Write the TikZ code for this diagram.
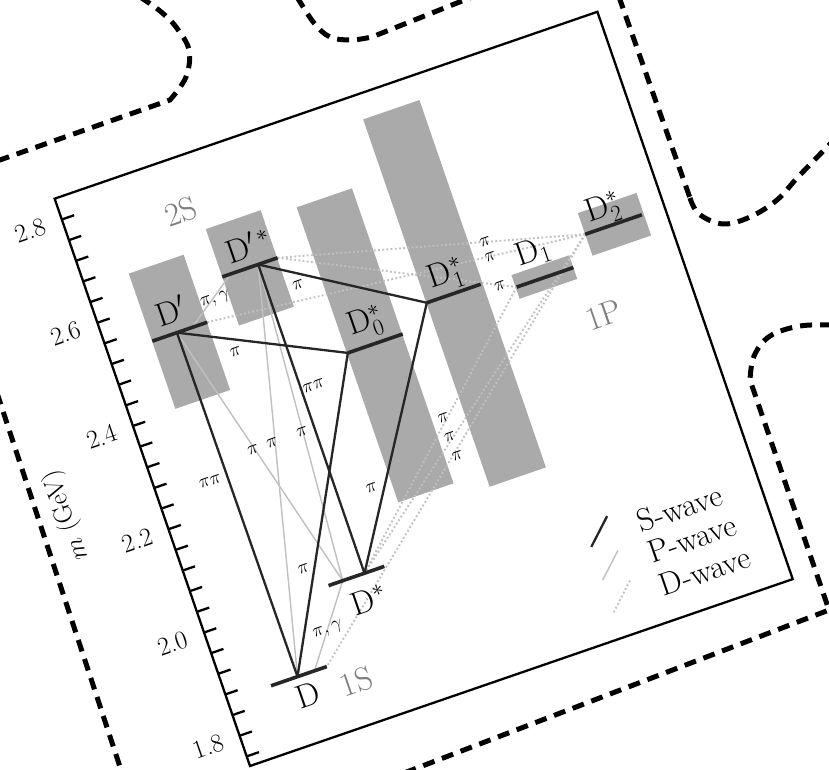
\RequirePackage{fix-cm}
\documentclass[tikz,border=0pt]{standalone}
\usepackage{fontspec}
\definecolor{bandgray}{RGB}{170,170,170}
\definecolor{txtgray}{RGB}{125,125,125}
\definecolor{pgray}{RGB}{192,192,192}
\begin{document}
\begin{tikzpicture}[x=1pt,y=1pt]
\tikzset{
 band/.style={fill=bandgray, draw=none},
 lvl/.style={line width=3.6pt, black!85, line cap=butt},
 swave/.style={line width=2.3pt, black!85},
 pwave/.style={line width=1.4pt, pgray},
 dwave/.style={line width=1.9pt, pgray, dash pattern=on 1.8pt off 2.4pt},
 lbl/.style={font=\fontsize{33}{36}\selectfont, inner sep=0pt},
 lblw/.style={lbl, anchor=base west},
 glbl/.style={lbl, text=txtgray},
 pil/.style={font=\fontsize{19}{21}\selectfont, inner sep=0pt},
 tkl/.style={font=\fontsize{26}{28}\selectfont, inner sep=0pt},
 leg/.style={font=\fontsize{32}{34}\selectfont, inner sep=0pt, anchor=west},
 outline/.style={line width=5pt, black, dash pattern=on 12pt off 8pt},
}
\useasboundingbox (0,0) rectangle (829,770);
\fill[white] (0,0) rectangle (829,770);
% ---------- dashed puzzle outline (image coordinates) ----------
\begin{scope}[shift={(0,770)}, yscale=-1]
\draw[outline] plot[smooth, tension=0.6] coordinates {(140,-3) (160,11) (176,27) (189,50) (186,77) (170,100)} -- (-3,161);
\draw[outline] (-3,393) -- (122,773);
\draw[outline] plot[smooth, tension=0.6] coordinates {(297,-3) (314,23) (330,37) (351,40) (372,37)} -- (472,-3);
\draw[outline] (619,-3) -- (690,198) plot[smooth, tension=0.6] coordinates {(690,198) (699,214) (723,224) (750,217) (777,200) (798,177) (832,142)};
\draw[outline] plot[smooth, tension=0.6] coordinates {(832,325) (800,326) (770,336) (754,356) (750,380)} -- (829,610) -- (404,773);
\end{scope}
% ---------- rotated plot ----------
\begin{scope}[shift={(250,4)}, rotate=19, transform shape]
\fill[white] (0,0) rectangle (574,600);
% bands
\fill[band] (45.7,362) rectangle (103.7,505);
\fill[band] (133,420) rectangle (191,522);
\fill[band] (226,201) rectangle (284.5,513);
\fill[band] (317.5,186) rectangle (377,574.5);
\fill[band] (407,354) rectangle (468,379);
\fill[band] (490,371) rectangle (552,416);
% level coordinates
\coordinate (DL) at (46,69);     \coordinate (DR) at (105,69);
\coordinate (Dv) at (74,69);     \coordinate (Dg) at (92,69);
\coordinate (DsL) at (133,145);  \coordinate (DsR) at (192,145);
\coordinate (Dsv) at (171,145);  \coordinate (Dsg) at (148,145);
\coordinate (DpL) at (46,433.5); \coordinate (DpR) at (104,433.5);
\coordinate (Dpv) at (72,433.5); \coordinate (Dpg) at (88,433.5);
\coordinate (DpsL) at (133,471.5); \coordinate (DpsR) at (191.5,471.5);
\coordinate (Dpsv) at (171,471.5); \coordinate (Dpsg) at (142,471.5);
\coordinate (DzL) at (227,358.7); \coordinate (DzR) at (285,358.7);
\coordinate (DosL) at (318,380.4); \coordinate (DosR) at (375,380.4);
\coordinate (DoL) at (408,366);  \coordinate (DoR) at (468,366);
\coordinate (DtL) at (490,393.6); \coordinate (DtR) at (550,393.6);
% D-wave
\draw[dwave] (DpsR) -- (DoL);
\draw[dwave] (DpsR) -- (DtL);
\draw[dwave] (DpR) -- (DtL);
\draw[dwave] (DoL) -- (Dsv);
\draw[dwave] (DtL) -- (Dsv);
\draw[dwave] (DtL) -- (DR);
% P-wave
\draw[pwave] (Dpv) -- (Dsg);
\draw[pwave] (Dpsv) -- (Dsg);
\draw[pwave] (Dpsv) -- (Dv);
\draw[pwave] (Dpsg) -- (Dpg);
\draw[pwave] (Dsg) -- (Dg);
% S-wave
\draw[swave] (Dpv) -- (Dv);
\draw[swave] (Dpv) -- (DzL);
\draw[swave] (Dpsv) -- (DosL);
\draw[swave] (Dpsv) -- (Dsv);
\draw[swave] (DzL) -- (Dv);
\draw[swave] (DosL) -- (Dsv);
% levels
\draw[lvl] (DL) -- (DR);
\draw[lvl] (DsL) -- (DsR);
\draw[lvl] (DpL) -- (DpR);
\draw[lvl] (DpsL) -- (DpsR);
\draw[lvl] (DzL) -- (DzR);
\draw[lvl] (DosL) -- (DosR);
\draw[lvl] (DoL) -- (DoR);
\draw[lvl] (DtL) -- (DtR);
% frame and ticks
\draw[line width=2.3pt] (0,0) rectangle (574,600);
\foreach \k in {0,...,26} \draw[line width=2.3pt] (0,{10.16+21.84*\k}) -- ++(13,0);
\foreach \m/\k in {1.8/1,2.0/6,2.2/11,2.4/16,2.6/21,2.8/26}
  \node[tkl] (tk\k) at (-33,{10.16+21.84*\k}) {\m};
\node[font=\fontsize{26}{28}\selectfont, inner sep=0pt, rotate=90] (axl) at (-92,297) {$m$ (GeV)};
% level labels
\node[lbl] (lD) at (78,48) {D};
\node[glbl] (l1S) at (128,45) {1S};
\node[lblw] (lDs) at (148.4,106.7) {D$^*$};
\node[lblw] (lDp) at (57.4,443.7) {D$^{\prime}$};
\node[lblw] (lDps) at (144.4,480.7) {D$^{\prime\,*}$};
\node[lblw] (lDz) at (235.4,373.7) {D$_0^*$};
\node[lblw] (lDos) at (327.4,392.7) {D$_1^*$};
\node[lblw] (lDo) at (417.4,384.7) {D$_1$};
\node[lblw] (lDt) at (497.4,403.7) {D$_2^*$};
\node[glbl] (l2S) at (115,547) {2S};
\node[glbl] (l1P) at (481,311) {1P};
% transition labels
\node[pil] (p1) at (119,452) {$\pi,\gamma$};
\node[pil] (p2) at (118,103) {$\pi,\gamma$};
\node[pil] (p3) at (55,282) {$\pi\pi$};
\node[pil] (p4) at (184,339) {$\pi\pi$};
\node[pil] (p5) at (121,396) {$\pi$};
\node[pil] (p6) at (202,439) {$\pi$};
\node[pil] (p7) at (115,169) {$\pi$};
\node[pil] (p8) at (205.5,223) {$\pi$};
\node[pil] (p9) at (106,298) {$\pi$};
\node[pil] (p10) at (126,298) {$\pi$};
\node[pil] (p11) at (158,299) {$\pi$};
\node[pil] (p12) at (296,266) {$\pi$};
\node[pil] (p13) at (296,246) {$\pi$};
\node[pil] (p14) at (297,226) {$\pi$};
\node[pil] (p15) at (393,419) {$\pi$};
\node[pil] (p16) at (393,403) {$\pi$};
\node[pil] (p17) at (393,373) {$\pi$};
% legend
\coordinate (lsa) at (394,96);  \coordinate (lsb) at (419,120);
\coordinate (lpa) at (394,61);  \coordinate (lpb) at (418,84);
\coordinate (lda) at (394,27);  \coordinate (ldb) at (420,52);
\draw[swave] (lsa) -- (lsb);
\draw[pwave] (lpa) -- (lpb);
\draw[dwave] (lda) -- (ldb);
\node[leg] (ls) at (446,104) {S-wave};
\node[leg] (lp) at (446,71) {P-wave};
\node[leg] (ld) at (446,36) {D-wave};
\end{scope}
\end{tikzpicture}
\end{document}
